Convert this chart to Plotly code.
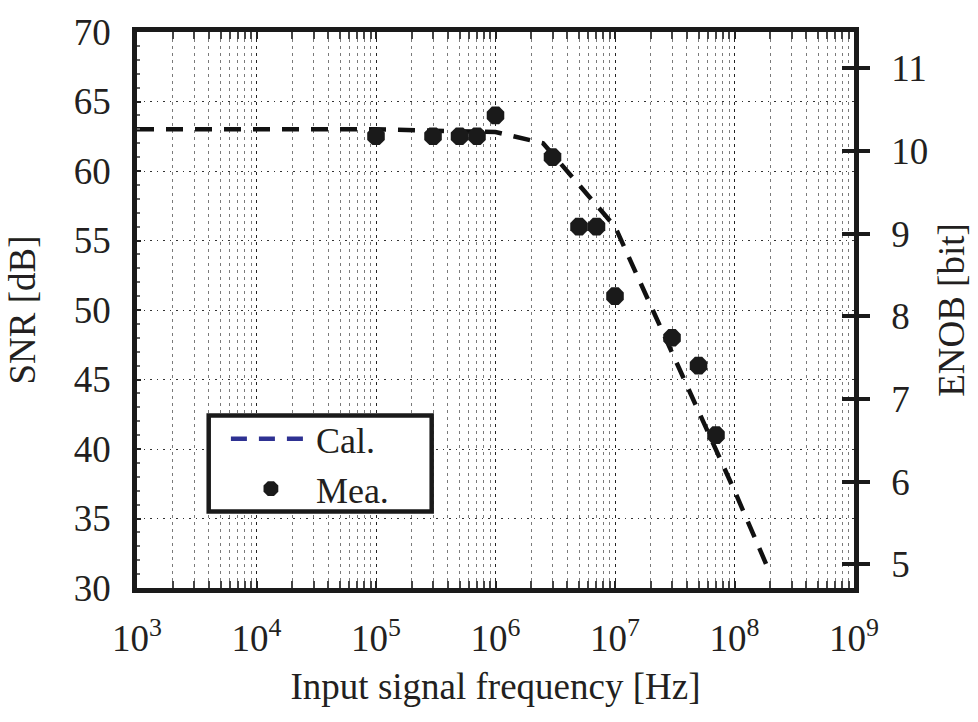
import plotly.graph_objects as go

# ---- data ----
cal_freq = [1e3, 1e4, 1e5, 1e6, 2.5e6, 1e7, 1e8, 2e8]
cal_snr = [63.0, 63.0, 63.0, 62.8, 62.0, 56.0, 37.0, 31.0]

mea_freq = [1e5, 3e5, 5e5, 7e5, 1e6, 3e6, 5e6, 7e6, 1e7, 3e7, 5e7, 7e7]
mea_snr = [62.5, 62.5, 62.5, 62.5, 64.0, 61.0, 56.0, 56.0, 51.0, 48.0, 46.0, 41.0]

x_tickvals = [1e3, 1e4, 1e5, 1e6, 1e7, 1e8, 1e9]
x_ticktext = ["10<sup>3</sup>", "10<sup>4</sup>", "10<sup>5</sup>", "10<sup>6</sup>",
              "10<sup>7</sup>", "10<sup>8</sup>", "10<sup>9</sup>"]
snr_ticks = [30, 35, 40, 45, 50, 55, 60, 65, 70]
enob_ticks = [5, 6, 7, 8, 9, 10, 11]

FONT = "Liberation Serif"
TXT = "#231F20"

fig = go.Figure()

fig.add_trace(go.Scatter(
    x=cal_freq, y=cal_snr, mode="lines", showlegend=False,
    line=dict(color="#111111", width=4.5, dash="17px,12px"),
))
# legend entry for Cal. (blue sample in the legend)
fig.add_trace(go.Scatter(
    x=[None], y=[None], mode="lines", name="Cal.",
    line=dict(color="#2E3192", width=4.5, dash="16px,12px"),
))
fig.add_trace(go.Scatter(
    x=mea_freq, y=mea_snr, mode="markers", name="Mea.",
    marker=dict(symbol="octagon", size=19, color="#1a1a1a"),
))
# anchors for right-hand axes
fig.add_trace(go.Scatter(x=[None], y=[None], yaxis="y2", showlegend=False, hoverinfo="skip"))
fig.add_trace(go.Scatter(x=[None], y=[None], yaxis="y3", showlegend=False, hoverinfo="skip"))

fig.update_layout(
    width=978, height=722,
    margin=dict(l=137, r=121, t=21, b=134),
    paper_bgcolor="white", plot_bgcolor="white",
    font=dict(family=FONT, color=TXT, size=36),
    xaxis=dict(
        type="log", range=[3, 9],
        tickvals=x_tickvals, ticktext=x_ticktext,
        tickfont=dict(size=37),
        ticks="inside", ticklen=7, tickwidth=1.5, tickcolor="#222",
        showline=True, linewidth=4.5, linecolor="#1a1a1a", mirror="allticks",
        showgrid=True, gridcolor="#222222", gridwidth=1, griddash="3px,4px",
        minor=dict(dtick="D1", ticks="inside", ticklen=3, tickcolor="#444",
                   showgrid=True, gridcolor="#7a7a7a", gridwidth=1, griddash="3px,4px"),
        ticklabelstandoff=14,
        title=dict(text="Input signal frequency [Hz]", font=dict(size=37), standoff=16),
        zeroline=False,
    ),
    yaxis=dict(
        range=[30, 70], tickvals=snr_ticks,
        tickfont=dict(size=37),
        ticks="inside", ticklen=4, tickwidth=1.5, tickcolor="#222",
        minor=dict(dtick=1, ticks="inside", ticklen=3, tickcolor="#666"),
        showline=True, linewidth=4.5, linecolor="#1a1a1a", mirror=True,
        showgrid=True, gridcolor="#333333", gridwidth=1.2, griddash="1.5px,5px",
        ticklabelstandoff=14,
        title=dict(text="SNR [dB]", font=dict(size=37), standoff=28),
        zeroline=False,
    ),
    yaxis2=dict(
        overlaying="y", side="right", range=[4.715, 11.44],
        tickvals=enob_ticks, tickfont=dict(size=37),
        ticks="outside", ticklen=11, tickwidth=4, tickcolor="#1a1a1a",
        showline=True, linewidth=4.5, linecolor="#1a1a1a",
        showgrid=False, zeroline=False,
        ticklabelstandoff=14,
        title=dict(text="ENOB [bit]", font=dict(size=37), standoff=12),
    ),
    yaxis3=dict(
        overlaying="y", side="right", range=[4.715, 11.44],
        tickvals=enob_ticks, showticklabels=False,
        ticks="inside", ticklen=12, tickwidth=4, tickcolor="#1a1a1a",
        showline=False, showgrid=False, zeroline=False,
    ),
    legend=dict(
        x=0.124, y=0.322, xanchor="left", yanchor="top",
        bgcolor="rgba(0,0,0,0)", borderwidth=0,
        font=dict(size=36), itemwidth=80, tracegroupgap=0,
    ),
    shapes=[dict(
        type="rect", xref="paper", yref="paper",
        x0=0.1, x1=0.411, y0=0.1376, y1=0.3104,
        line=dict(color="#1a1a1a", width=4.5), fillcolor="white", layer="above",
    )],
)

fig.write_html("out.html")
